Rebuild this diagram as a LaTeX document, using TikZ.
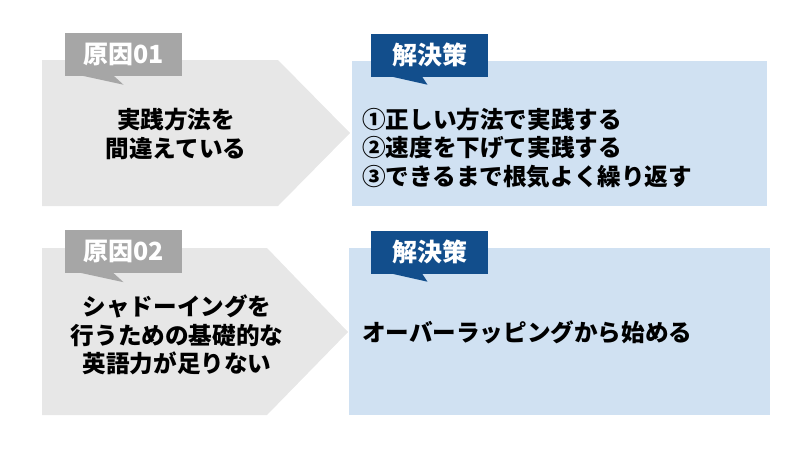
\documentclass[tikz,border=0pt]{standalone}
\usepackage{fontspec}
\setmainfont{Noto Sans CJK JP}
\definecolor{causebg}{HTML}{E7E7E7}
\definecolor{causetag}{HTML}{A6A6A6}
\definecolor{solbg}{HTML}{D0E1F2}
\definecolor{soltag}{HTML}{124E8C}
\tikzset{
  tagbox/.style={minimum width=117pt, minimum height=43pt, inner sep=0pt, text=white,
    font=\bfseries\fontsize{25}{28}\selectfont},
  bodytext/.style={inner sep=0pt, text=black, font=\bfseries\fontsize{23.6}{28.3}\selectfont},
}
\begin{document}
\begin{tikzpicture}[x=1pt,y=-1pt]
\useasboundingbox (0,0) rectangle (800,450);
% row 1
\fill[causebg] (42,60) -- (278,60) -- (350,133) -- (278,206) -- (42,206) -- cycle;
\fill[solbg] (352,61) rectangle (767,206);
\node[tagbox, fill=causetag] (c1) at (123.5,54) {原因01};
\fill[causetag] ([yshift=1pt]c1.south) ++(-46,0) -- ++(46,10) -- ++(-11,-10) -- cycle;
\node[tagbox, fill=soltag] (s1) at (429.5,55) {解決策};
\fill[soltag] ([yshift=1pt]s1.south) ++(-42,0) -- ++(40,9) -- ++(-6,-9) -- cycle;
\node[bodytext, align=center] (ct1) at (176,134) {実践方法を\\間違えている};
\node[bodytext, align=left, anchor=west] (st1) at (362,148) {①正しい方法で実践する\\②速度を下げて実践する\\③できるまで根気よく繰り返す};
% row 2
\fill[causebg] (42,248) -- (267,248) -- (348,332) -- (267,415) -- (42,415) -- cycle;
\fill[solbg] (349,248) rectangle (770,415);
\node[tagbox, fill=causetag] (c2) at (123.5,251.5) {原因02};
\fill[causetag] ([yshift=1pt]c2.south) ++(-46,0) -- ++(46,10) -- ++(-11,-10) -- cycle;
\node[tagbox, fill=soltag] (s2) at (429.5,252) {解決策};
\fill[soltag] ([yshift=1pt]s2.south) ++(-42,0) -- ++(40,9) -- ++(-6,-9) -- cycle;
\node[bodytext, align=center] (ct2) at (177,335) {シャドーイングを\\行うための基礎的な\\英語力が足りない};
\node[bodytext, anchor=west] (st2) at (362,332) {オーバーラッピングから始める};
\end{tikzpicture}
\end{document}
